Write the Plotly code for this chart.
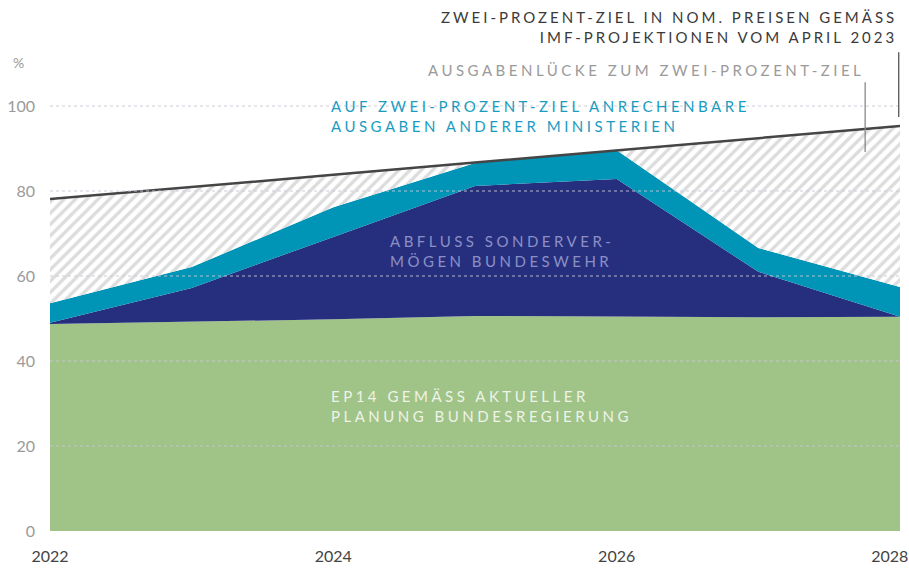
import plotly.graph_objects as go

years = [2022, 2023, 2024, 2025, 2026, 2027, 2028]
ep14 = [48.7, 49.3, 49.8, 50.6, 50.5, 50.3, 50.4]
sondervermoegen = [0.3, 7.9, 19.4, 30.6, 32.3, 10.7, 0.0]
andere_ministerien = [4.6, 4.9, 7.0, 5.4, 6.8, 5.6, 7.0]
zwei_prozent_ziel = [78.1, 80.9, 83.8, 86.7, 89.6, 92.4, 95.3]
y_ticks = [0, 20, 40, 60, 80, 100]
x_ticks = [2022, 2024, 2026, 2028]
x_tick_labels = ["2022", "2024", "2026", "2028\u00a0\u00a0\u00a0\u00a0\u00a0"]

lvl1 = ep14
lvl2 = [a + b for a, b in zip(lvl1, sondervermoegen)]
lvl3 = [a + b for a, b in zip(lvl2, andere_ministerien)]

GREEN = "#a0c387"
NAVY = "#262f7e"
TEAL = "#0094b7"
LINE = "#454545"
FONT = "Lato, 'Noto Sans', sans-serif"

def ls(t, sp=3.5):
    return f'<span style="letter-spacing:{sp}px">{t}</span>'

fig = go.Figure()
fig.add_trace(go.Scatter(x=years, y=lvl1, mode="lines", line=dict(width=0, color=GREEN),
                         fill="tozeroy", fillcolor=GREEN, hoverinfo="skip"))
fig.add_trace(go.Scatter(x=years, y=lvl2, mode="lines", line=dict(width=0, color=NAVY),
                         fill="tonexty", fillcolor=NAVY, hoverinfo="skip"))
fig.add_trace(go.Scatter(x=years, y=lvl3, mode="lines", line=dict(width=0, color=TEAL),
                         fill="tonexty", fillcolor=TEAL, hoverinfo="skip"))
fig.add_trace(go.Scatter(x=years, y=zwei_prozent_ziel, mode="lines", line=dict(width=0, color="#cccccc"),
                         fill="tonexty", fillcolor="white",
                         fillpattern=dict(shape="/", fgcolor="#bababa", bgcolor="white", size=8, solidity=0.42),
                         hoverinfo="skip"))
fig.add_trace(go.Scatter(x=years, y=zwei_prozent_ziel, mode="lines", line=dict(width=2.5, color=LINE),
                         hoverinfo="skip"))

# gridlines drawn above areas
for v in y_ticks[1:]:
    fig.add_shape(type="line", xref="paper", yref="y", x0=0, x1=1, y0=v, y1=v,
                  line=dict(color="rgba(200,200,212,0.9)", width=1, dash="dot"), layer="above")

# pointer lines
fig.add_shape(type="line", xref="paper", yref="paper", x0=0.9985, x1=0.9985, y0=1.006, y1=0.870,
              line=dict(color="#555555", width=1.3), layer="above")
fig.add_shape(type="line", xref="paper", yref="paper", x0=0.959, x1=0.959, y0=0.943, y1=0.796,
              line=dict(color="#888888", width=1.3), layer="above")

fig.add_annotation(xref="paper", yref="paper", x=0.999, y=1.058, xanchor="right", yanchor="middle",
                   align="right", showarrow=False,
                   text=ls("ZWEI-PROZENT-ZIEL IN NOM. PREISEN GEMÄSS", 3) + "<br>" + ls("IMF-PROJEKTIONEN VOM APRIL 2023", 3),
                   font=dict(family=FONT, size=15, color="#3a3a3a"))
fig.add_annotation(xref="paper", yref="paper", x=0.96, y=0.968, xanchor="right", yanchor="middle",
                   align="right", showarrow=False,
                   text=ls("AUSGABENLÜCKE ZUM ZWEI-PROZENT-ZIEL"),
                   font=dict(family=FONT, size=15, color="#9a9a9a"))
fig.add_annotation(xref="paper", yref="paper", x=0.328, y=0.871, xanchor="left", yanchor="middle",
                   align="left", showarrow=False,
                   text=ls("AUF ZWEI-PROZENT-ZIEL ANRECHENBARE") + "<br>" + ls("AUSGABEN ANDERER MINISTERIEN"),
                   font=dict(family=FONT, size=15, color="#1a9cc2"))
fig.add_annotation(xref="paper", yref="paper", x=0.398, y=0.588, xanchor="left", yanchor="middle",
                   align="left", showarrow=False,
                   text=ls("ABFLUSS SONDERVER-") + "<br>" + ls("MÖGEN BUNDESWEHR"),
                   font=dict(family=FONT, size=15, color="#8c8fc6"))
fig.add_annotation(xref="paper", yref="paper", x=0.328, y=0.263, xanchor="left", yanchor="middle",
                   align="left", showarrow=False,
                   text=ls("EP14 GEMÄSS AKTUELLER") + "<br>" + ls("PLANUNG BUNDESREGIERUNG"),
                   font=dict(family=FONT, size=15, color="#eef3e8"))
fig.add_annotation(xref="paper", yref="paper", x=-0.046, y=0.985, xanchor="left", yanchor="middle",
                   showarrow=False, text="%", font=dict(family=FONT, size=14, color="#999999"))

fig.update_layout(
    width=909, height=573,
    margin=dict(l=50, r=9, t=55, b=42, autoexpand=False),
    paper_bgcolor="white", plot_bgcolor="white",
    showlegend=False,
    hovermode=False,
    font=dict(family=FONT),
    xaxis=dict(range=[2022, 2028], tickvals=x_ticks, ticktext=x_tick_labels,
               showgrid=False, zeroline=False, showline=False, ticks="", automargin=False,
               ticklabeloverflow="allow",
               tickfont=dict(size=16, color="#444444"), ticklabelstandoff=14),
    yaxis=dict(range=[0, 112], tickvals=y_ticks, showgrid=False, zeroline=False, showline=False,
               ticks="", automargin=False, ticklabeloverflow="allow",
               tickfont=dict(size=16, color="#9a9a9a"), ticklabelstandoff=14),
)

fig.write_html("out.html", config={"displayModeBar": False, "staticPlot": True},
               post_script="document.body.style.margin='0';document.body.style.overflow='hidden';")
